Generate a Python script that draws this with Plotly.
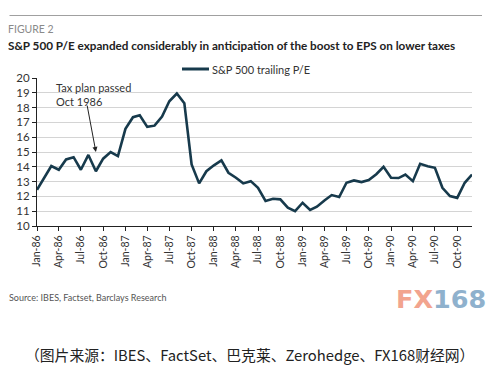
import plotly.graph_objects as go
import pandas as pd

# Monthly S&P 500 trailing P/E, Jan-86 .. Dec-90
months = pd.date_range("1986-01-01", "1990-12-01", freq="MS")
pe_values = [
    12.45, 13.3, 14.05, 13.8, 14.5, 14.65, 13.8, 14.8, 13.7, 14.55, 15.0, 14.72,
    16.56, 17.35, 17.48, 16.7, 16.78, 17.4, 18.43, 18.95, 18.3, 14.16, 12.88, 13.7,
    14.1, 14.43, 13.6, 13.26, 12.88, 13.03, 12.58, 11.69, 11.84, 11.8, 11.24, 11.0,
    11.57, 11.08, 11.3, 11.73, 12.09, 11.96, 12.92, 13.08, 12.97, 13.1, 13.5, 14.0,
    13.26, 13.24, 13.48, 13.03, 14.2, 14.04, 13.93, 12.58, 12.02, 11.9, 12.92, 13.48,
]
tick_labels = ["Jan-86", "Apr-86", "Jul-86", "Oct-86", "Jan-87", "Apr-87", "Jul-87",
               "Oct-87", "Jan-88", "Apr-88", "Jul-88", "Oct-88", "Jan-89", "Apr-89",
               "Jul-89", "Oct-89", "Jan-90", "Apr-90", "Jul-90", "Oct-90"]
tick_dates = pd.date_range("1986-01-01", "1990-10-01", freq="3MS")
y_ticks = list(range(10, 21))
series_name = "S&P 500 trailing P/E"

LINE = "#173a4c"
OFF = 8                     # page body margin
W, H = 498 - OFF, 372 - OFF
L, R, T, B = 29, 26, 70, 146
PW = W - L - R
PH = H - T - B


def px(xref_pix):
    return (xref_pix - OFF - L) / PW


def py(yref_pix):
    return (H - B - (yref_pix - OFF)) / PH


fig = go.Figure()
fig.add_trace(go.Scatter(
    x=months, y=pe_values, mode="lines", name=series_name,
    line=dict(color=LINE, width=2.6), showlegend=False,
))

fig.update_layout(
    width=W, height=H,
    margin=dict(l=L, r=R, t=T, b=B, autoexpand=False),
    paper_bgcolor="white", plot_bgcolor="white",
    font=dict(family="Lato, Open Sans, sans-serif", color="#333333"),
    showlegend=False,
    xaxis=dict(
        range=[months[0], months[-1]], automargin=False,
        tickvals=tick_dates, ticktext=tick_labels, tickangle=-90,
        tickfont=dict(size=10.5, color="#333333"),
        showgrid=False, showline=True, linecolor="#222222", linewidth=1.2,
        ticks="outside", ticklen=4, tickcolor="#222222",
    ),
    yaxis=dict(
        range=[10, 20], tickvals=y_ticks, automargin=False,
        tickfont=dict(size=11.5, color="#333333"),
        showgrid=True, gridcolor="#d4d4d4", gridwidth=1,
        showline=True, linecolor="#222222", linewidth=1.2,
        ticks="outside", ticklen=4, tickcolor="#222222",
        zeroline=False,
    ),
)

# top rule drawn as an arrowless annotation line
fig.add_annotation(x=px(482), y=py(15.5), xref="paper", yref="paper", text="",
                   showarrow=True, arrowhead=0, arrowwidth=1.2, arrowcolor="#a0a0a0",
                   standoff=0, startstandoff=0, ax=-(482 - 8), ay=0)

fig.add_annotation(text="FIGURE 2", xref="paper", yref="paper",
                   x=px(6), y=py(29), xanchor="left", yanchor="middle",
                   showarrow=False, font=dict(size=10.5, color="#8a8a8a"))
fig.add_annotation(text="<b>S&P 500 P/E expanded considerably in anticipation of the boost to EPS on lower taxes</b>",
                   xref="paper", yref="paper",
                   x=px(6), y=py(45), xanchor="left", yanchor="middle",
                   showarrow=False, font=dict(size=11.7, color="#222222"))

# manual legend
fig.add_shape(type="line", xref="paper", yref="paper",
              x0=px(182), x1=px(209), y0=py(69), y1=py(69),
              line=dict(color=LINE, width=3))
fig.add_annotation(text=series_name, xref="paper", yref="paper",
                   x=px(210), y=py(69), xanchor="left", yanchor="middle",
                   showarrow=False, font=dict(size=11, color="#333333"))

# Tax plan annotation
fig.add_annotation(text="Tax plan passed<br>Oct 1986", xref="paper", yref="paper",
                   x=px(54), y=py(79), xanchor="left", yanchor="top", align="left",
                   showarrow=False, font=dict(size=11, color="#333333"))
fig.add_annotation(x=months[8], y=15.0, xref="x", yref="y", text="",
                   showarrow=True, arrowhead=2, arrowsize=1, arrowwidth=1,
                   arrowcolor="#222222", ax=-9, ay=-48)

# Source
fig.add_annotation(text="Source: IBES, Factset, Barclays Research", xref="paper", yref="paper",
                   x=px(7), y=py(297), xanchor="left", yanchor="middle",
                   showarrow=False, font=dict(size=9, color="#555555"))

# watermark logo text
fig.add_annotation(text="<b><span style='color:#f2a48e'>FX</span><span style='color:#8fb1cd'>168</span></b>",
                   xref="paper", yref="paper",
                   x=px(488), y=py(299), xanchor="right", yanchor="middle",
                   showarrow=False, font=dict(size=25.5, family="DejaVu Sans, sans-serif"))

# Chinese caption
fig.add_annotation(text="（图片来源：IBES、FactSet、巴克莱、Zerohedge、FX168财经网）",
                   xref="paper", yref="paper",
                   x=px(249), y=py(354), xanchor="center", yanchor="middle",
                   showarrow=False,
                   font=dict(size=14.8, family="Noto Sans CJK SC", color="#222222"))

fig.write_html("out.html")
